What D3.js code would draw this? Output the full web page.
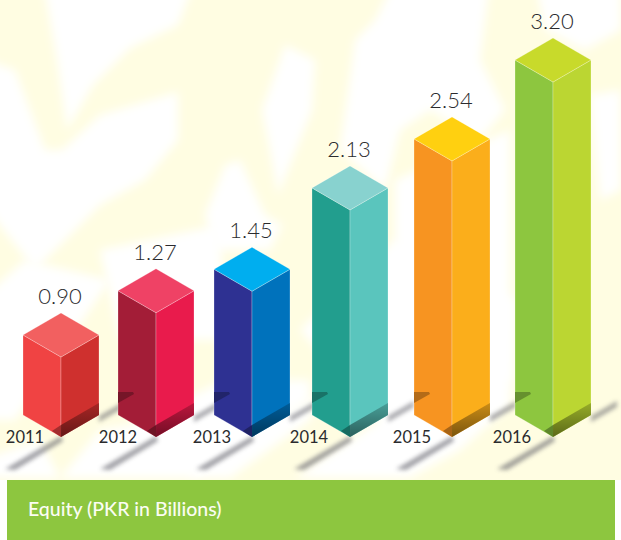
<!DOCTYPE html>
<html><head><meta charset="utf-8">
<script src="https://cdn.jsdelivr.net/npm/d3@7"></script>
<style>html,body{margin:0;padding:0;background:#fff}svg{display:block}text{font-family:Lato,"Open Sans",sans-serif}</style>
</head><body><svg id="c" width="621" height="540"></svg>
<script>
const years = ["2011","2012","2013","2014","2015","2016"];
const values = [0.90,1.27,1.45,2.13,2.54,3.20];
const valueLabels = ["0.90","1.27","1.45","2.13","2.54","3.20"];
const leftColors  = ["#f04343","#a31d37","#2e3192","#229e8e","#f79421","#8dc63f"];
const rightColors = ["#cf302e","#e91b4c","#0072bc","#5ac5bd","#fbae1b","#bbd632"];
const topColors   = ["#f26060","#ef4265","#00aeef","#88d2cf","#ffd010","#c8da2b"];
const title = "Equity (PKR in Billions)";

const W=621,H=540;
const svg=d3.select("#c");
const defs=svg.append("defs");
defs.append("filter").attr("id","b5").attr("x","-20%").attr("y","-20%").attr("width","140%").attr("height","140%")
  .append("feGaussianBlur").attr("stdDeviation",5);
defs.append("filter").attr("id","b2").attr("x","-30%").attr("y","-30%").attr("width","160%").attr("height","160%")
  .append("feGaussianBlur").attr("stdDeviation",2.2);
const g1=defs.append("linearGradient").attr("id","fade").attr("x1",0).attr("y1",0).attr("x2",0).attr("y2",1);
g1.append("stop").attr("offset",0).attr("stop-color","#000").attr("stop-opacity",0.05);
g1.append("stop").attr("offset",1).attr("stop-color","#000").attr("stop-opacity",0.42);

// background wash
const bg=svg.append("g");
bg.append("rect").attr("width",W).attr("height",480).attr("fill","#fffde2");
const whites=[
 [[43,-20],[195,-20],[178,25],[130,48],[93,85],[67,130],[57,60]],
 [[-20,58],[15,70],[45,150],[62,150],[100,115],[178,92],[178,140],[145,180],[100,205],[35,270],[-20,200]],
 [[205,215],[225,165],[240,160],[265,215],[282,225],[270,250],[215,250]],
 [[262,110],[285,45],[315,60],[312,110],[278,195],[270,150]],
 [[355,40],[375,20],[395,-20],[490,-20],[480,60],[505,110],[480,140],[430,110],[400,130],[385,190],[340,150]],
 [[535,-20],[621,-20],[621,30],[585,50],[545,30]],
 [[590,95],[621,90],[621,190],[600,200]],
 [[395,180],[510,130],[510,380],[395,380]],
 [[300,330],[395,240],[515,300],[510,405],[460,450],[410,478],[295,478],[380,420]],
 [[100,250],[220,225],[225,340],[120,340]],
 [[-20,300],[25,260],[110,280],[15,420],[-20,420]],
 [[100,430],[130,425],[225,380],[310,380],[310,400],[195,478],[60,478]],
 [[-20,460],[40,440],[60,478],[-20,478]],
 [[200,452],[320,395],[310,420],[230,478],[190,478]]
];
bg.selectAll("polygon").data(whites).join("polygon")
  .attr("points",d=>d.join(" ")).attr("fill","#fff").attr("filter","url(#b5)");
svg.append("rect").attr("x",0).attr("y",470).attr("width",W).attr("height",0);

// scales
const x=d3.scaleOrdinal().domain(years).range([61,156,252,350,452,553]);
const y=d3.scaleLinear().domain([0,3.2]).range([464.6,82]);
const baseY=y.invert(437);          // floor of every block, on the value scale
const hw=38, rise=22;               // isometric half width and shoulder rise
const poly=pts=>pts.map(p=>p.join(",")).join(" ");
const rows=years.map((year,i)=>({year,value:values[i],label:valueLabels[i],l:leftColors[i],r:rightColors[i],t:topColors[i],i}));

// floor shadows
const floor=svg.append("g");
rows.forEach(d=>{
  const cx=x(d.year), by=y(baseY);
  floor.append("polygon").attr("points",poly([[cx,by-1],[cx-56,by+32],[cx-46,by+33],[cx+2,by+4]]))
    .attr("fill","#55555f").attr("opacity",0.55).attr("filter","url(#b2)");
  floor.append("polygon").attr("points",poly([[cx+hw,by-rise+1],[cx+hw+26,by-rise-14],[cx+hw+26,by-rise-8],[cx+hw,by-rise+7]]))
    .attr("fill","#55555f").attr("opacity",0.5).attr("filter","url(#b2)");
});

// blocks
const blocks=svg.selectAll("g.block").data(rows).join("g").attr("class","block");
blocks.each(function(d){
  const g=d3.select(this), cx=x(d.year), fy=y(d.value), by=y(baseY);
  const edge={stroke:"#fff","stroke-opacity":0.35,"stroke-width":0.7,"stroke-linejoin":"round"};
  const face=(pts,fill)=>{const p=g.append("polygon").attr("points",poly(pts)).attr("fill",fill);
    Object.entries(edge).forEach(([k,v])=>p.attr(k,v));return p;};
  face([[cx-hw,fy-rise],[cx,fy],[cx,by],[cx-hw,by-rise]],d.l);
  face([[cx,fy],[cx+hw,fy-rise],[cx+hw,by-rise],[cx,by]],d.r);
  face([[cx,fy],[cx-hw,fy-rise],[cx,fy-2*rise],[cx+hw,fy-rise]],d.t);
  // cast shadow on the faces
  g.append("polygon").attr("points",poly([[cx,by],[cx+hw,by-rise],[cx+hw,by-34],[cx,by-12]]))
    .attr("fill",d3.color(d.r).darker(0.6)).attr("opacity",0.8);
  g.append("polygon").attr("points",poly([[cx,by],[cx+hw,by-rise],[cx+hw,by-34],[cx,by-12]]))
    .attr("fill","url(#fade)");
  g.append("polygon").attr("points",poly([[cx,by],[cx,by-12],[cx-9,by-6]]))
    .attr("fill",d3.color(d.l).darker(1.1));
  if(d.i>0){
    g.append("polygon").attr("points",poly([[cx-hw,by-34],[cx-hw,by-45],[cx-hw+15,by-45],[cx-hw+16,by-43]]))
      .attr("fill",d3.color(d.l).darker(0.9));
  }
});

// value labels
svg.selectAll("text.val").data(rows).join("text").attr("class","val")
  .attr("x",d=>x(d.year)-1).attr("y",d=>y(d.value)-2*rise-9)
  .attr("text-anchor","middle").attr("font-size",22).attr("font-weight",300)
  .attr("fill","#2b2b2e").text(d=>d.label);

// year labels
svg.selectAll("text.yr").data(rows).join("text").attr("class","yr")
  .attr("x",d=>x(d.year)-(d.i<1?36:d.i<2?38:d.i<3?40:d.i<4?41:d.i<5?40:41)).attr("y",443)
  .attr("text-anchor","middle").attr("font-size",16.5).attr("font-weight",400)
  .attr("fill","#2b2b2e").text(d=>d.year);

// title band
svg.append("rect").attr("x",7).attr("y",480).attr("width",608).attr("height",60).attr("fill","#8dc63f");
svg.append("text").attr("x",28).attr("y",516).attr("font-size",19.5).attr("font-weight",500)
  .attr("fill","#fbfdf3").text(title);
</script></body></html>
